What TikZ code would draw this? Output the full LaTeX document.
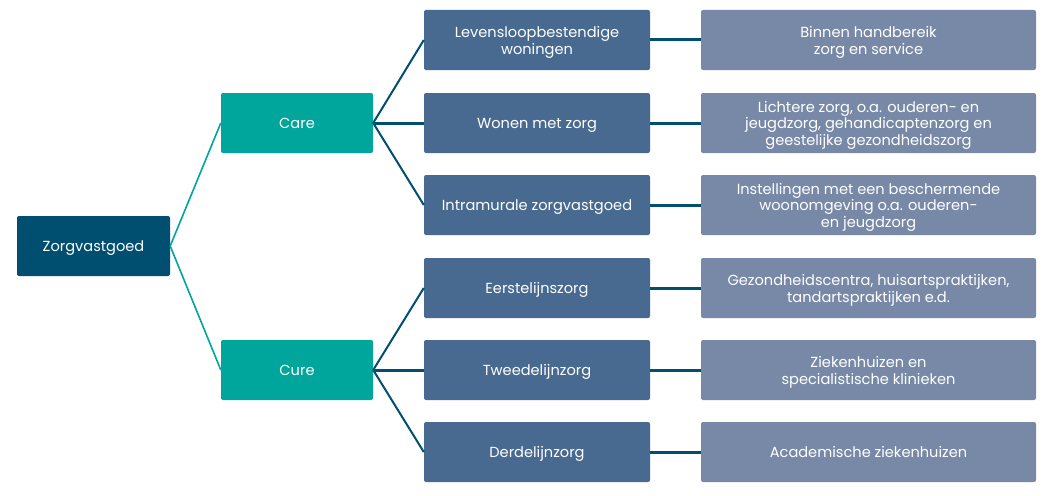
\documentclass[tikz,border=0pt]{standalone}
\usepackage{fontspec}
\setmainfont{Poppins}
\definecolor{cdark}{HTML}{004E70}
\definecolor{cteal}{HTML}{00A59B}
\definecolor{cmid}{HTML}{486A90}
\definecolor{cright}{HTML}{7889A8}
\newcommand\tstrut{\rule{0pt}{16pt}}
\newcommand\bstrut{\rule[-4.5pt]{0pt}{0pt}}
\newcommand\boxfont{\fontsize{14.6}{16.7}\selectfont\lineskiplimit -20pt\relax}
\begin{document}
\begin{tikzpicture}[x=1pt,y=-1pt,
  box/.style={rounded corners=2pt, inner sep=0pt, align=center, text=white,
    font=\boxfont, minimum height=60pt},
  rootbox/.style={box, fill=cdark, minimum width=153pt},
  catbox/.style={box, fill=cteal, minimum width=152pt},
  midbox/.style={box, fill=cmid, minimum width=226pt},
  rbox/.style={box, fill=cright, minimum width=335pt},
  tline/.style={draw=cteal, line width=1.6pt},
  dline/.style={draw=cdark, line width=2pt},
  hline/.style={draw=cdark, line width=3pt}]
\useasboundingbox (0,0) rectangle (1051,495);
\node[rootbox] (root) at (93.5,246) {\tstrut Zorgvastgoed\bstrut};
\node[catbox] (care) at (297,123) {\tstrut Care\bstrut};
\node[catbox] (cure) at (297,370) {\tstrut Cure\bstrut};
\node[midbox] (m1) at (537,40) {\tstrut Levensloopbestendige\\woningen\bstrut};
\node[midbox] (m2) at (537,123) {\tstrut Wonen met zorg\bstrut};
\node[midbox] (m3) at (537,205) {\tstrut Intramurale zorgvastgoed\bstrut};
\node[midbox] (m4) at (537,288) {\tstrut Eerstelijnszorg\bstrut};
\node[midbox] (m5) at (537,370) {\tstrut Tweedelijnzorg\bstrut};
\node[midbox] (m6) at (537,452) {\tstrut Derdelijnzorg\bstrut};
\node[rbox] (r1) at (868.5,40) {\tstrut Binnen handbereik\\zorg en service\bstrut};
\node[rbox] (r2) at (868.5,123) {\tstrut Lichtere zorg, o.a. ouderen- en\\jeugdzorg, gehandicaptenzorg en\\geestelijke gezondheidszorg\bstrut};
\node[rbox] (r3) at (868.5,205) {\tstrut Instellingen met een beschermende\\woonomgeving o.a. ouderen-\\en jeugdzorg\bstrut};
\node[rbox] (r4) at (868.5,288) {\tstrut Gezondheidscentra, huisartspraktijken,\\tandartspraktijken e.d.\bstrut};
\node[rbox] (r5) at (868.5,370) {\tstrut Ziekenhuizen en\\specialistische klinieken\bstrut};
\node[rbox] (r6) at (868.5,452) {\tstrut Academische ziekenhuizen\bstrut};
\path[tline] (root.east) -- (care.west);
\path[tline] (root.east) -- (cure.west);
\foreach \m in {m1,m3} \path[dline] (care.east) -- (\m.west);
\path[hline] (care.east) -- (m2.west);
\foreach \m in {m4,m6} \path[dline] (cure.east) -- (\m.west);
\path[hline] (cure.east) -- (m5.west);
\foreach \i in {1,...,6} \path[hline] (m\i.east) -- (r\i.west);
\end{tikzpicture}
\end{document}
